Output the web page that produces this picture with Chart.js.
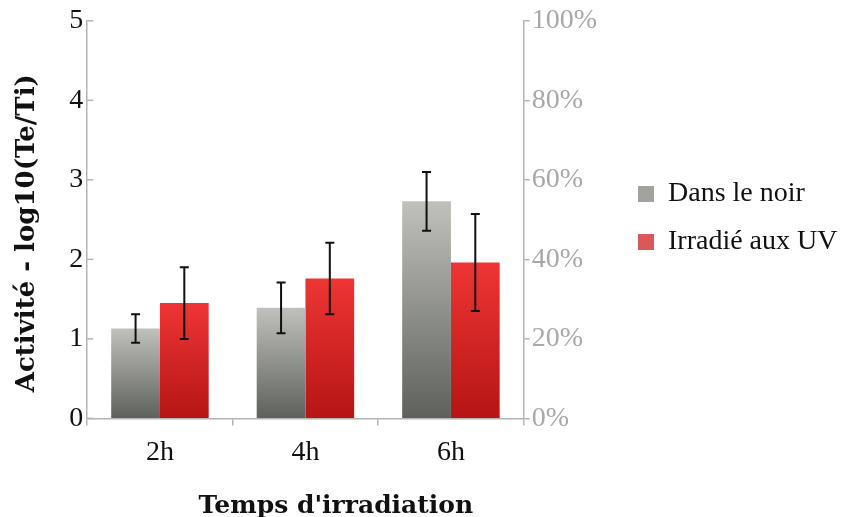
<!DOCTYPE html>
<html>
<head>
<meta charset="utf-8">
<script src="https://cdn.jsdelivr.net/npm/chart.js@4/dist/chart.umd.min.js"></script>
<style>
  body { margin: 0; background: #fff; }
  canvas { display: block; }
</style>
</head>
<body>
<canvas id="myChart" width="843" height="517"></canvas>
<script>
// data
const categories = ['2h', '4h', '6h'];
const seriesNames = ['Dans le noir', 'Irradié aux UV'];
const darkValues = [1.13, 1.39, 2.73];
const darkErrors = [0.18, 0.32, 0.37];
const uvValues = [1.45, 1.76, 1.96];
const uvErrors = [0.45, 0.45, 0.61];
const percentTicks = [0, 20, 40, 60, 80, 100];

const serif = "'Liberation Serif', 'Times New Roman', serif";
const boldSerif = "'DejaVu Serif', serif";
const axisGrey = '#b4b4b4';
const legendColors = ['#a2a39e', '#dc5858'];

// vertical gradient on each bar, light at the top and dark at the bottom
function barGradient(top, bottom, legendColor) {
    return function (ctx) {
        const chart = ctx.chart;
        if (ctx.type !== 'data' || !chart.chartArea) return legendColor;
        const y = chart.scales.y;
        const yTop = y.getPixelForValue(ctx.raw);
        const yBottom = y.getPixelForValue(0);
        const g = chart.ctx.createLinearGradient(0, yTop, 0, yBottom);
        g.addColorStop(0, top);
        g.addColorStop(1, bottom);
        return g;
    };
}

// the layout caps side boxes at a sixth of the width, the legend needs more
const wideLegend = {
    id: 'wideLegend',
    beforeLayout(chart) {
        const lg = chart.legend;
        if (lg && !lg._wide) {
            const fit = lg.fit.bind(lg);
            lg.fit = function () { fit(); this.width = 244; };
            lg._wide = true;
        }
    },
    afterLayout(chart) {
        if (chart.legend) chart.legend.left += 19;
    }
};

// error bars drawn from the same scale as the bars
const errorBars = {
    id: 'errorBars',
    afterDatasetsDraw(chart) {
        const ctx = chart.ctx;
        const y = chart.scales.y;
        chart.data.datasets.forEach((ds, i) => {
            const meta = chart.getDatasetMeta(i);
            meta.data.forEach((bar, j) => {
                const v = ds.data[j], e = ds.errors[j];
                const top = y.getPixelForValue(v + e);
                const bottom = y.getPixelForValue(v - e);
                ctx.save();
                ctx.strokeStyle = '#111';
                ctx.lineWidth = 2;
                ctx.beginPath();
                ctx.moveTo(bar.x, top);
                ctx.lineTo(bar.x, bottom);
                ctx.moveTo(bar.x - 4.5, top);
                ctx.lineTo(bar.x + 4.5, top);
                ctx.moveTo(bar.x - 4.5, bottom);
                ctx.lineTo(bar.x + 4.5, bottom);
                ctx.stroke();
                ctx.restore();
            });
        });
        // small inward ticks on the left axis
        const left = chart.chartArea.left;
        ctx.save();
        ctx.strokeStyle = axisGrey;
        ctx.lineWidth = 1.5;
        y.ticks.forEach(t => {
            const py = y.getPixelForValue(t.value);
            ctx.beginPath();
            ctx.moveTo(left, py);
            ctx.lineTo(left + 6, py);
            ctx.stroke();
        });
        ctx.restore();
    }
};

new Chart(document.getElementById('myChart'), {
    type: 'bar',
    data: {
        labels: categories,
        datasets: [
            {
                label: seriesNames[0],
                data: darkValues,
                errors: darkErrors,
                backgroundColor: barGradient('#c0c1bc', '#5e605c', legendColors[0]),
                barPercentage: 1,
                categoryPercentage: 0.67
            },
            {
                label: seriesNames[1],
                data: uvValues,
                errors: uvErrors,
                backgroundColor: barGradient('#ee3534', '#b51515', legendColors[1]),
                barPercentage: 1,
                categoryPercentage: 0.67
            }
        ]
    },
    options: {
        responsive: false,
        animation: false,
        layout: { padding: { top: 11, left: 12, right: 0, bottom: -4 } },
        plugins: {
            tooltip: { enabled: false },
            legend: {
                position: 'right',
                align: 'start',
                title: { display: true, text: ' ', padding: { top: 137, bottom: 0 }, font: { size: 10 } },
                labels: {
                    boxWidth: 16,
                    boxHeight: 16,
                    padding: 20,
                    color: '#111',
                    font: { family: serif, size: 28 },
                    generateLabels: chart => chart.data.datasets.map((ds, i) => ({
                        text: ds.label,
                        fillStyle: legendColors[i],
                        strokeStyle: legendColors[i],
                        lineWidth: 0,
                        fontColor: '#111',
                        datasetIndex: i
                    }))
                }
            }
        },
        scales: {
            x: {
                offset: true,
                grid: { display: true, drawOnChartArea: false, offset: true, tickLength: 7, color: axisGrey, lineWidth: 1.5 },
                border: { color: axisGrey, width: 1.5 },
                ticks: { color: '#111', padding: 10, font: { family: serif, size: 28 } },
                title: {
                    display: true,
                    text: "       Temps d'irradiation",
                    color: '#111',
                    padding: { top: 12, bottom: 0 },
                    font: { family: boldSerif, size: 25, weight: 'bold' }
                }
            },
            y: {
                min: 0,
                max: 5,
                ticks: { stepSize: 1, color: '#111', padding: 4, font: { family: serif, size: 28 } },
                grid: { drawOnChartArea: false, drawTicks: false },
                border: { color: axisGrey, width: 1.5 },
                title: {
                    display: true,
                    text: 'Activité - log10(Te/Ti)   ',
                    color: '#111',
                    padding: { top: 0, bottom: 22 },
                    font: { family: boldSerif, size: 26, weight: 'bold' }
                }
            },
            y1: {
                position: 'right',
                min: 0,
                max: 100,
                afterBuildTicks(scale) {
                    scale.ticks = percentTicks.map(v => ({ value: v }));
                },
                ticks: {
                    color: '#a8a8a8',
                    padding: 2,
                    font: { family: serif, size: 28 },
                    callback: v => v + '%'
                },
                grid: { drawOnChartArea: false, tickLength: 6, color: axisGrey, lineWidth: 1.5 },
                border: { color: axisGrey, width: 1.5 }
            }
        }
    },
    plugins: [wideLegend, errorBars]
});
</script>
</body>
</html>
